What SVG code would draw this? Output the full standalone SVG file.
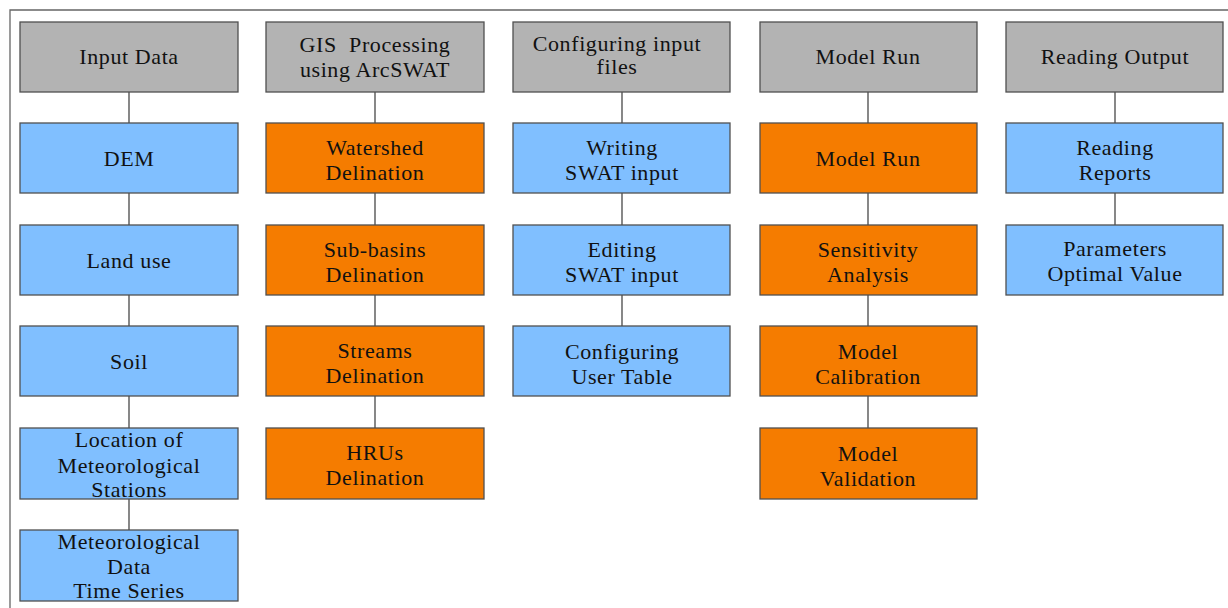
<svg xmlns="http://www.w3.org/2000/svg" width="1228" height="608" viewBox="0 0 1228 608">
<style>
.box{stroke:#505050;stroke-width:1.3}
.g{fill:#b3b3b3}
.b{fill:#80bfff}
.o{fill:#f57c00}
text{font-family:"Liberation Serif","Times New Roman",serif;font-size:22px;fill:#111;text-anchor:middle;letter-spacing:0.6px;white-space:pre}
.c line{stroke:#555;stroke-width:1.4}
</style>
<rect width="1228" height="608" fill="#fff"/>
<path d="M1228 10H10V608" fill="none" stroke="#666" stroke-width="1.3"/>
<g class="c">
<line x1="129" y1="92" x2="129" y2="530"/>
<line x1="375" y1="92" x2="375" y2="428"/>
<line x1="622" y1="92" x2="622" y2="326"/>
<line x1="868" y1="92" x2="868" y2="428"/>
<line x1="1115" y1="92" x2="1115" y2="225"/>
</g>
<g id="input-data"><rect class="box g" x="20" y="22" width="218" height="70"/><text x="129" y="64">Input Data</text></g>
<g id="dem"><rect class="box b" x="20" y="123" width="218" height="70"/><text x="129" y="166">DEM</text></g>
<g id="land-use"><rect class="box b" x="20" y="225" width="218" height="70"/><text x="129" y="268">Land use</text></g>
<g id="soil"><rect class="box b" x="20" y="326" width="218" height="70"/><text x="129" y="369">Soil</text></g>
<g id="location"><rect class="box b" x="20" y="428" width="218" height="71"/><text x="129" y="447">Location of</text><text x="129" y="473">Meteorological</text><text x="129" y="497">Stations</text></g>
<g id="met-data"><rect class="box b" x="20" y="530" width="218" height="71"/><text x="129" y="549">Meteorological</text><text x="129" y="574">Data</text><text x="129" y="598">Time Series</text></g>

<g id="gis"><rect class="box g" x="266" y="22" width="218" height="70"/><text x="375" y="52">GIS  Processing</text><text x="375" y="77">using ArcSWAT</text></g>
<g id="watershed"><rect class="box o" x="266" y="123" width="218" height="70"/><text x="375" y="155">Watershed</text><text x="375" y="180">Delination</text></g>
<g id="subbasins"><rect class="box o" x="266" y="225" width="218" height="70"/><text x="375" y="257">Sub-basins</text><text x="375" y="282">Delination</text></g>
<g id="streams"><rect class="box o" x="266" y="326" width="218" height="70"/><text x="375" y="358">Streams</text><text x="375" y="383">Delination</text></g>
<g id="hrus"><rect class="box o" x="266" y="428" width="218" height="71"/><text x="375" y="460">HRUs</text><text x="375" y="485">Delination</text></g>

<g id="config"><rect class="box g" x="513" y="22" width="217" height="70"/><text x="617" y="51">Configuring input</text><text x="617" y="74">files</text></g>
<g id="writing"><rect class="box b" x="513" y="123" width="217" height="70"/><text x="622" y="155">Writing</text><text x="622" y="180">SWAT input</text></g>
<g id="editing"><rect class="box b" x="513" y="225" width="217" height="70"/><text x="622" y="257">Editing</text><text x="622" y="282">SWAT input</text></g>
<g id="user-table"><rect class="box b" x="513" y="326" width="217" height="70"/><text x="622" y="359">Configuring</text><text x="622" y="384">User Table</text></g>

<g id="model-run-h"><rect class="box g" x="760" y="22" width="217" height="70"/><text x="868" y="64">Model Run</text></g>
<g id="model-run"><rect class="box o" x="760" y="123" width="217" height="70"/><text x="868" y="166">Model Run</text></g>
<g id="sensitivity"><rect class="box o" x="760" y="225" width="217" height="70"/><text x="868" y="257">Sensitivity</text><text x="868" y="282">Analysis</text></g>
<g id="calibration"><rect class="box o" x="760" y="326" width="217" height="70"/><text x="868" y="359">Model</text><text x="868" y="384">Calibration</text></g>
<g id="validation"><rect class="box o" x="760" y="428" width="217" height="71"/><text x="868" y="461">Model</text><text x="868" y="486">Validation</text></g>

<g id="reading-output"><rect class="box g" x="1006" y="22" width="217" height="70"/><text x="1115" y="64">Reading Output</text></g>
<g id="reports"><rect class="box b" x="1006" y="123" width="217" height="70"/><text x="1115" y="155">Reading</text><text x="1115" y="180">Reports</text></g>
<g id="params"><rect class="box b" x="1006" y="225" width="217" height="70"/><text x="1115" y="256">Parameters</text><text x="1115" y="281">Optimal Value</text></g>
</svg>
